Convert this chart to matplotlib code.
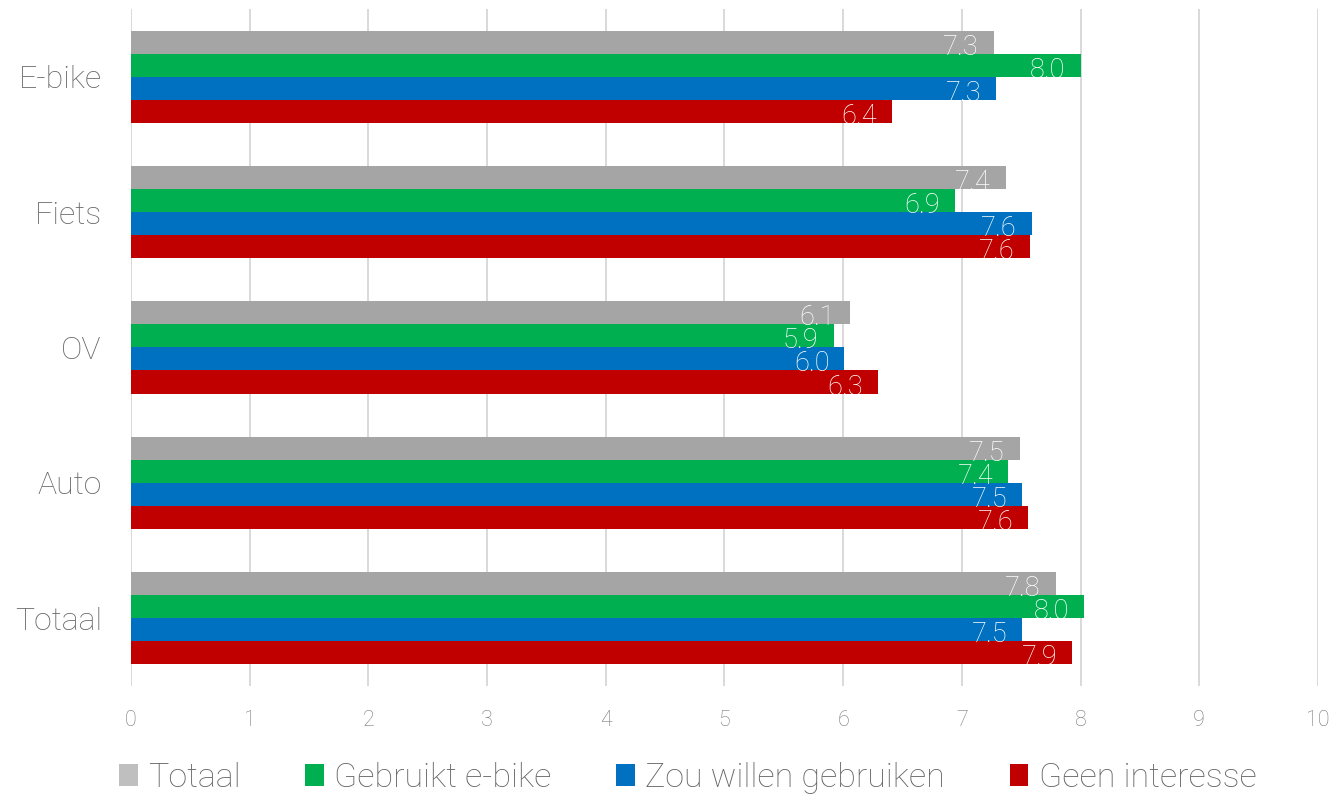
import numpy as np
import matplotlib
matplotlib.use("Agg")
import matplotlib.pyplot as plt
from matplotlib import font_manager

# categorieën (van boven naar beneden) en reeksen
categories = ["E-bike", "Fiets", "OV", "Auto", "Totaal"]
series = ["Totaal", "Gebruikt e-bike", "Zou willen gebruiken", "Geen interesse"]

totaal = [7.27, 7.37, 6.06, 7.49, 7.79]
gebruikt = [8.00, 6.94, 5.92, 7.39, 8.03]
zou_willen = [7.29, 7.59, 6.01, 7.51, 7.51]
geen_interesse = [6.41, 7.57, 6.29, 7.56, 7.93]

xticks = [0, 1, 2, 3, 4, 5, 6, 7, 8, 9, 10]

colors = ["#A5A5A5", "#00B050", "#0070C0", "#C00000"]

names = {f.name for f in font_manager.fontManager.ttflist}
family = "Liberation Sans Narrow" if "Liberation Sans Narrow" in names else "Roboto"
plt.rcParams["font.family"] = [family, "DejaVu Sans"]
plt.rcParams["font.weight"] = "light"

fig = plt.figure(figsize=(13.38, 8.01), dpi=100)
ax = fig.add_axes([0.0979, 0.1436, 0.8871, 0.8452])

y = np.arange(len(categories))
h = 0.17
data = [totaal, gebruikt, zou_willen, geen_interesse]
for i, (vals, name, c) in enumerate(zip(data, series, colors)):
    b = ax.barh(y + (i - 1.5) * h, vals, height=h, color=c, label=name, zorder=2)
    for rect, v in zip(b, vals):
        ax.annotate(f"{v:.1f}", xy=(rect.get_width(), rect.get_y() + h / 2),
                    xytext=(-15, -5), textcoords="offset pixels",
                    ha="right", va="center", color="white", fontsize=19.5, zorder=3)

ax.set_xlim(0, 10)
ax.set_ylim(len(categories) - 0.5, -0.5)
ax.set_xticks(xticks)
ax.set_yticks(y)
ax.set_yticklabels(categories)
ax.grid(axis="x", color="#D9D9D9", linewidth=1.4, zorder=0)
ax.set_axisbelow(True)
for s in ax.spines.values():
    s.set_visible(False)
ax.tick_params(axis="x", length=0, pad=17, labelsize=15.5, labelcolor="#7A7A7A")
ax.tick_params(axis="y", length=0, pad=21, labelsize=23, labelcolor="#666666")

leg = fig.legend(loc="center", bbox_to_anchor=(0.514, 0.029), ncol=4, frameon=False,
                 fontsize=24.5, labelcolor="#666666", handlelength=0.55, handleheight=0.6,
                 handletextpad=0.3, columnspacing=1.9)
leg.legend_handles[0].set_facecolor("#BFBFBF")

fig.savefig("out.png", dpi=100)
